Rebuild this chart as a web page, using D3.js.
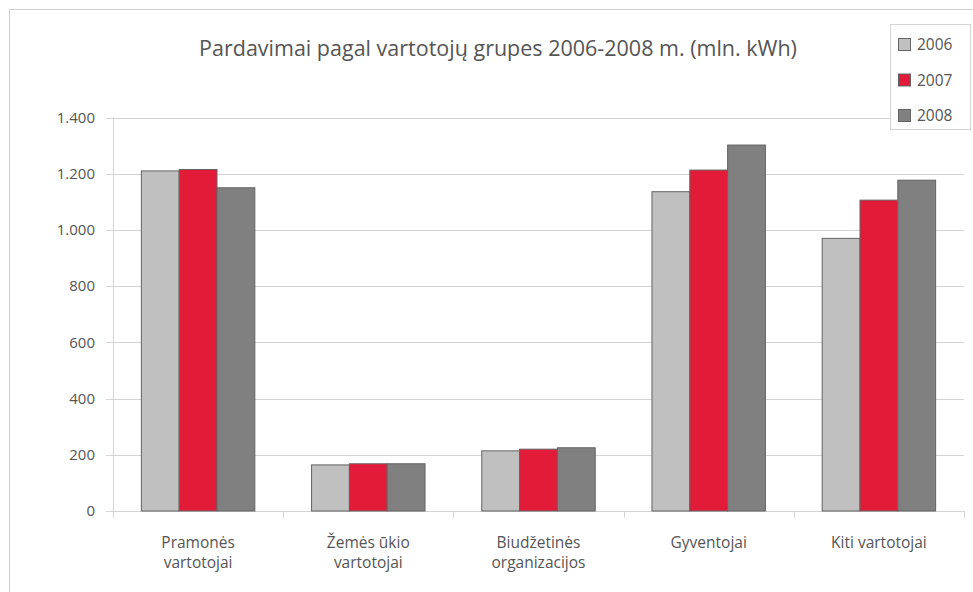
<!DOCTYPE html>
<html>
<head>
<meta charset="utf-8">
<script src="https://cdn.jsdelivr.net/npm/d3@7"></script>
<style>
  body { margin: 0; background: #fff; }
  svg text { font-family: "Open Sans", "Noto Sans", sans-serif; fill: #555; }
</style>
</head>
<body>
<div id="chart"></div>
<script>
// data
const categories = [["Pramonės", "vartotojai"], ["Žemės ūkio", "vartotojai"], ["Biudžetinės", "organizacijos"], ["Gyventojai"], ["Kiti vartotojai"]]
const years = ["2006", "2007", "2008"]
const v2006 = [1210, 164, 214, 1136, 970]
const v2007 = [1215, 168, 220, 1213, 1106]
const v2008 = [1150, 168, 225, 1302, 1177]
const yTicks = [0, 200, 400, 600, 800, 1000, 1200, 1400]
const colors = ["#c0c0c0", "#e21c38", "#808080"]

const W = 973, H = 592
const plot = {left: 113, right: 964, top: 117.5, bottom: 511}

const svg = d3.select("#chart").append("svg")
  .attr("width", W)
  .attr("height", H)

// outer chart border
svg.append("rect")
  .attr("x", 9.5).attr("y", 9.5)
  .attr("width", W + 20).attr("height", H + 20)
  .attr("fill", "none")
  .attr("stroke", "#d0d0d0")

const catIdx = d3.range(categories.length)
const x = d3.scaleBand().domain(catIdx).range([plot.left, plot.right]).paddingInner(0).paddingOuter(0)
const groupW = x.bandwidth() / 1.5
const x1 = d3.scaleBand().domain(years).range([0, groupW])
const y = d3.scaleLinear().domain([0, 1400]).range([plot.bottom, plot.top])

// gridlines
svg.append("g")
  .selectAll("line")
  .data(yTicks)
  .enter()
  .append("line")
    .attr("x1", plot.left - 7)
    .attr("x2", plot.right)
    .attr("y1", d => Math.round(y(d)) + 0.5)
    .attr("y2", d => Math.round(y(d)) + 0.5)
    .attr("stroke", "#d4d4d4")

// y axis line
svg.append("line")
  .attr("x1", plot.left + 0.5).attr("x2", plot.left + 0.5)
  .attr("y1", plot.top).attr("y2", plot.bottom + 7)
  .attr("stroke", "#d4d4d4")

// x ticks at category borders
svg.append("g")
  .selectAll("line")
  .data(catIdx.slice(1).concat([categories.length]))
  .enter()
  .append("line")
    .attr("x1", d => Math.round(d < categories.length ? x(d) : plot.right) + 0.5)
    .attr("x2", d => Math.round(d < categories.length ? x(d) : plot.right) + 0.5)
    .attr("y1", plot.bottom)
    .attr("y2", plot.bottom + 7)
    .attr("stroke", "#d4d4d4")

// y labels
const fmt = d3.formatLocale({decimal: ",", thousands: ".", grouping: [3], currency: ["", ""]}).format(",")
svg.append("g")
  .selectAll("text")
  .data(yTicks)
  .enter()
  .append("text")
    .attr("x", 95)
    .attr("y", d => y(d))
    .attr("dy", "0.35em")
    .attr("text-anchor", "end")
    .attr("font-size", "15px")
    .text(d => fmt(d))

// bars
const series = [v2006, v2007, v2008]
series.forEach(function(vals, s) {
  svg.append("g")
    .selectAll("rect")
    .data(vals)
    .enter()
    .append("rect")
      .attr("x", (d, i) => x(i) + (x.bandwidth() - groupW) / 2 + x1(years[s]))
      .attr("y", d => y(d))
      .attr("width", x1.bandwidth())
      .attr("height", d => y(0) - y(d))
      .attr("fill", colors[s])
      .attr("stroke", "#646464")
      .attr("stroke-width", 1)
})

// category labels
const lab = svg.append("g")
  .selectAll("text")
  .data(categories)
  .enter()
  .append("text")
    .attr("x", (d, i) => x(i) + x.bandwidth() / 2)
    .attr("y", 548)
    .attr("text-anchor", "middle")
    .attr("font-size", "15.5px")
lab.selectAll("tspan")
  .data(d => d)
  .enter()
  .append("tspan")
    .attr("x", function() { return this.parentNode.getAttribute("x") })
    .attr("dy", (d, i) => i == 0 ? 0 : 20)
    .text(d => d)

// title
svg.append("text")
  .attr("x", 498)
  .attr("y", 56)
  .attr("text-anchor", "middle")
  .attr("font-size", "21.5px")
  .text("Pardavimai pagal vartotojų grupes 2006-2008 m. (mln. kWh)")

// legend
const leg = svg.append("g")
leg.append("rect")
  .attr("x", 890.5).attr("y", 24.5)
  .attr("width", 80).attr("height", 105)
  .attr("fill", "#fff")
  .attr("stroke", "#d4d4d4")
leg.selectAll("rect.key")
  .data(years)
  .enter()
  .append("rect")
    .attr("class", "key")
    .attr("x", 898.5)
    .attr("y", (d, i) => 38.5 + i * 35.5)
    .attr("width", 12)
    .attr("height", 12)
    .attr("fill", (d, i) => colors[i])
    .attr("stroke", "#646464")
leg.selectAll("text")
  .data(years)
  .enter()
  .append("text")
    .attr("x", 917)
    .attr("y", (d, i) => 45 + i * 35.5)
    .attr("dy", "0.35em")
    .attr("font-size", "15.5px")
    .text(d => d)
</script>
</body>
</html>
